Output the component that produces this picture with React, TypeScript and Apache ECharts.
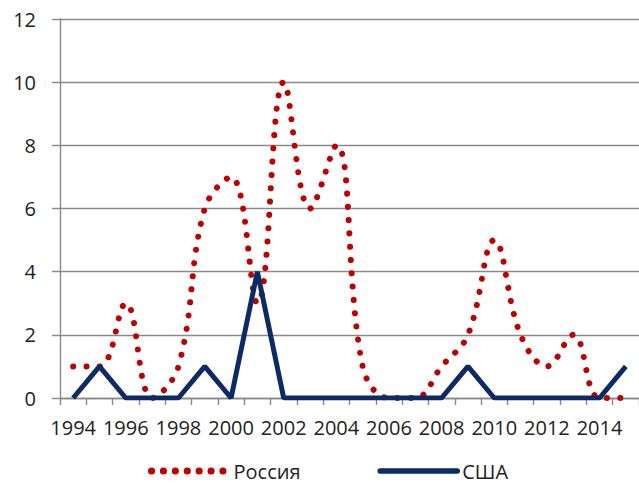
import React, { useEffect, useRef } from "react";
import * as echarts from "echarts";

const years = ["1994","1995","1996","1997","1998","1999","2000","2001","2002","2003","2004","2005","2006","2007","2008","2009","2010","2011","2012","2013","2014","2015"];
const russia = [1, 1, 3, 0, 1, 6, 7, 3, 10, 6, 8, 1, 0, 0, 1, 2, 5, 2, 1, 2, 0, 0];
const usa = [0, 1, 0, 0, 0, 1, 0, 4, 0, 0, 0, 0, 0, 0, 0, 1, 0, 0, 0, 0, 0, 1];
const yTicks = { min: 0, max: 12, interval: 2 };

const RED = "#c00000";
const NAVY = "#0b2a66";

export default function App() {
  const ref = useRef<HTMLDivElement>(null);
  useEffect(() => {
    if (!ref.current) return;
    const chart = echarts.init(ref.current, undefined, { renderer: "svg" });
    const font = "'Open Sans', 'Noto Sans', sans-serif";
    const dotLine = { color: RED, width: 6, type: [0.1, 13.2], cap: "round" };
    chart.setOption({
      animation: false,
      grid: { left: 60, right: -6, top: 19, bottom: 88 },
      legend: {
        top: 461,
        left: 148,
        padding: 0,
        itemWidth: 77,
        itemHeight: 14,
        itemGap: 77,
        textStyle: { fontFamily: font, fontSize: 20, color: "#222" },
        data: [
          {
            name: "Россия",
            itemStyle: { opacity: 0 },
            lineStyle: { color: RED, width: 7, type: [0.1, 11.8], cap: "round" },
          },
          {
            name: "США",
            itemStyle: { opacity: 0 },
            lineStyle: { color: NAVY, width: 5.5, cap: "round" },
          },
        ],
      },
      xAxis: {
        type: "category",
        data: years,
        boundaryGap: true,
        axisLine: { lineStyle: { color: "#888", width: 1.4 } },
        axisTick: { show: true, interval: 0, length: 7, lineStyle: { color: "#888", width: 1.4 } },
        axisLabel: { interval: 1, margin: 19, fontFamily: font, fontSize: 20, color: "#222" },
      },
      yAxis: {
        type: "value",
        min: yTicks.min,
        max: yTicks.max,
        interval: yTicks.interval,
        axisLine: { show: true, lineStyle: { color: "#888", width: 1.4 } },
        axisTick: { show: true, length: 8, lineStyle: { color: "#888", width: 1.4 } },
        axisLabel: { margin: 24, fontFamily: font, fontSize: 20, color: "#222" },
        splitLine: { lineStyle: { color: "#8a8a8a", width: 1.4 } },
      },
      series: [
        {
          name: "Россия",
          type: "line",
          data: russia,
          smooth: 0.4,
          symbol: "none",
          lineStyle: dotLine,
          itemStyle: { color: RED },
          z: 2,
        },
        {
          name: "США",
          type: "line",
          data: usa,
          symbol: "none",
          lineStyle: { color: NAVY, width: 5 },
          itemStyle: { color: NAVY },
          z: 3,
        },
      ],
    });
    return () => chart.dispose();
  }, []);
  return (
    <div
      ref={ref}
      style={{ position: "fixed", left: 0, top: 0, width: 639, height: 486, background: "#fff" }}
    />
  );
}
